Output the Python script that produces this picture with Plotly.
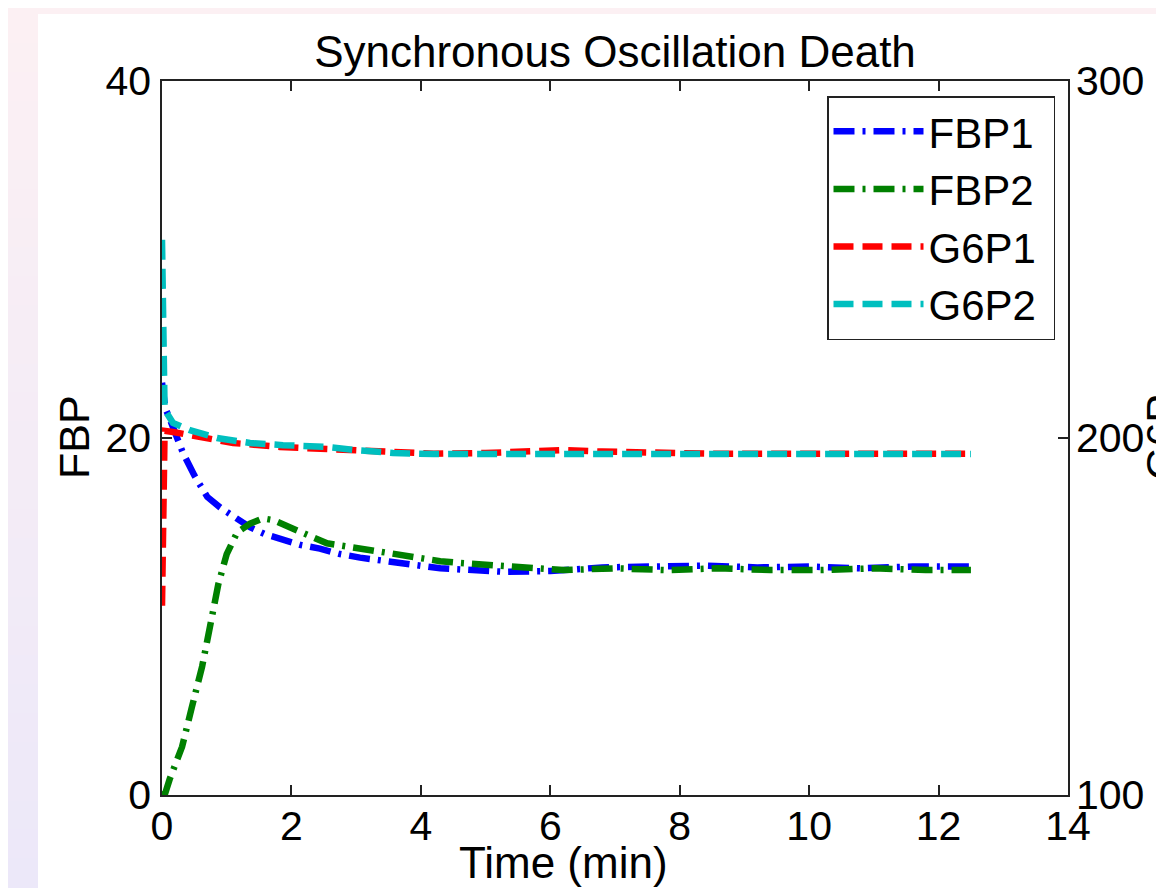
import plotly.graph_objects as go

# ---- data ----
t_fbp1 = [0, 0.05, 0.17, 0.32, 0.5, 0.7, 0.9, 1.1, 1.36, 1.6, 1.87, 2.15, 2.44, 2.75,
          3.06, 3.37, 3.68, 4.0, 4.3, 4.8, 5.3, 6.0, 6.8, 7.6, 8.4, 9.2, 10.0, 10.8, 11.6, 12.5]
fbp1 = [23.1, 21.7, 20.6, 19.2, 17.9, 16.7, 16.1, 15.6, 15.0, 14.6, 14.3, 14.0, 13.8, 13.5,
        13.3, 13.15, 13.0, 12.85, 12.7, 12.6, 12.5, 12.55, 12.75, 12.8, 12.85, 12.75, 12.8, 12.7, 12.8, 12.8]

t_fbp2 = [0, 0.05, 0.12, 0.31, 0.46, 0.62, 0.74, 0.87, 1.0, 1.16, 1.36, 1.56, 1.72, 1.9, 2.13,
          2.55, 2.9, 3.26, 3.88, 4.3, 4.6, 5.0, 5.58, 6.2, 7.0, 7.8, 8.6, 9.4, 10.2, 11.0, 11.8, 12.5]
fbp2 = [0, 0.1, 0.9, 2.7, 4.9, 7.2, 9.4, 11.8, 13.5, 14.7, 15.2, 15.5, 15.4, 15.1, 14.8,
        14.1, 13.9, 13.7, 13.3, 13.1, 13.0, 12.9, 12.7, 12.6, 12.7, 12.6, 12.7, 12.6, 12.6, 12.7, 12.6, 12.6]

t_g6p1 = [0, 0.04, 0.17, 0.59, 1.1, 1.82, 2.86, 3.5, 4.2, 5.0, 5.6, 6.2, 6.8, 7.5, 8.5, 9.5, 10.5, 11.5, 12.5]
g6p1 = [153, 202, 201.7, 200.3, 198.6, 197.5, 196.6, 196.0, 195.6, 195.8, 196.4, 196.6, 196.2,
        195.8, 195.6, 195.6, 195.6, 195.6, 195.6]

t_g6p2 = [0, 0.04, 0.17, 0.43, 0.85, 1.36, 1.87, 2.55, 3.0, 3.57, 4.2, 5.0, 6.0, 7.0, 8.0, 9.0, 10.0, 11.0, 12.5]
g6p2 = [255.5, 208, 204.2, 202.2, 200.0, 198.6, 198.0, 197.5, 196.6, 195.8, 195.5, 195.4, 195.5,
        195.5, 195.5, 195.5, 195.5, 195.5, 195.5]

x_ticks = [0, 2, 4, 6, 8, 10, 12, 14]
fbp_ticks = [0, 20, 40]
g6p_ticks = [100, 200, 300]

FONT = "Liberation Sans, Arial, sans-serif"
OFF = 8  # the page body margin shifts the figure by 8px
W, H = 1164 - OFF, 888 - OFF
L, R, T, B = 162 - OFF, 96, 81 - OFF, 93
PW, PH = W - L - R, H - T - B


# page pixel -> paper coordinates
def px(x):
    return (x - 162) / PW


def py(y):
    return (795 - y) / PH


DASH = "20px,9px"
DASHDOT = "21px,8px,3px,8px"

fig = go.Figure()

fig.add_trace(go.Scatter(x=t_fbp1, y=fbp1, mode="lines", name="FBP1\u00a0",
                         line=dict(color="#0000ff", width=6.5, dash=DASHDOT)))
fig.add_trace(go.Scatter(x=t_fbp2, y=fbp2, mode="lines", name="FBP2\u00a0",
                         line=dict(color="#008000", width=6.5, dash=DASHDOT)))
fig.add_trace(go.Scatter(x=t_g6p1, y=g6p1, mode="lines", name="G6P1\u00a0", yaxis="y2",
                         line=dict(color="#ff0000", width=6.5, dash=DASH)))
fig.add_trace(go.Scatter(x=t_g6p2, y=g6p2, mode="lines", name="G6P2\u00a0", yaxis="y2",
                         line=dict(color="#00bfbf", width=6.5, dash=DASH)))

# ---- background: pink/lavender frame round a white page ----
shapes = [dict(type="rect", xref="paper", yref="paper", layer="below",
               x0=px(38), x1=px(1170), y0=py(14), y1=py(895),
               fillcolor="white", line=dict(width=0))]
top_c = (252, 240, 243)
bot_c = (236, 232, 249)
n = 30
for i in range(n):
    f = (i + 0.5) / n
    c = tuple(round(top_c[k] + (bot_c[k] - top_c[k]) * f) for k in range(3))
    y0 = 14 + (888 - 14) * i / n
    y1 = 14 + (888 - 14) * (i + 1) / n
    shapes.append(dict(type="rect", xref="paper", yref="paper", layer="below",
                       x0=px(0), x1=px(38), y0=py(y0), y1=py(y1 + 1),
                       fillcolor="rgb(%d,%d,%d)" % c, line=dict(width=0)))

axis_common = dict(showgrid=False, zeroline=False, showline=True, linecolor="#222222",
                   linewidth=1.5, ticks="inside", ticklen=10, tickwidth=1.5,
                   tickcolor="#222222", tickfont=dict(family=FONT, size=41, color="black"))

fig.update_layout(
    width=W, height=H,
    margin=dict(l=L, r=R, t=T, b=B, autoexpand=False),
    paper_bgcolor="rgb(252,240,243)",
    plot_bgcolor="white",
    font=dict(family=FONT, color="black"),
    showlegend=True,
    shapes=shapes,
    title=dict(text="Synchronous Oscillation Death", x=0.5, xref="paper",
               y=1 - (52 - OFF) / H, yref="container", xanchor="center", yanchor="middle",
               font=dict(family=FONT, size=44, color="black")),
    xaxis=dict(range=[0, 14], tickvals=x_ticks, mirror="ticks", ticklabelstandoff=-6,
               **axis_common),
    yaxis=dict(range=[0, 40], tickvals=fbp_ticks, ticklabelstandoff=1, **axis_common),
    yaxis2=dict(range=[100, 300], tickvals=g6p_ticks, overlaying="y", side="right",
                ticklabelstandoff=-2, **axis_common),
    legend=dict(x=px(1055), y=py(96), xanchor="right", yanchor="top",
                bgcolor="white", bordercolor="#222222", borderwidth=1.5,
                font=dict(family=FONT, size=42, color="black"),
                itemwidth=90, tracegroupgap=0),
    annotations=[
        dict(text="Time (min)", xref="paper", yref="paper", x=px(563), y=py(862),
             xanchor="center", yanchor="middle", showarrow=False,
             font=dict(family=FONT, size=44, color="black")),
        dict(text="FBP", xref="paper", yref="paper", x=px(74), y=py(437),
             xanchor="center", yanchor="middle", showarrow=False, textangle=-90,
             font=dict(family=FONT, size=43, color="black")),
        dict(text="G6P", xref="paper", yref="paper", x=px(1161), y=py(437),
             xanchor="center", yanchor="middle", showarrow=False, textangle=-90,
             font=dict(family=FONT, size=43, color="black")),
    ],
)

fig.write_html("out.html")
